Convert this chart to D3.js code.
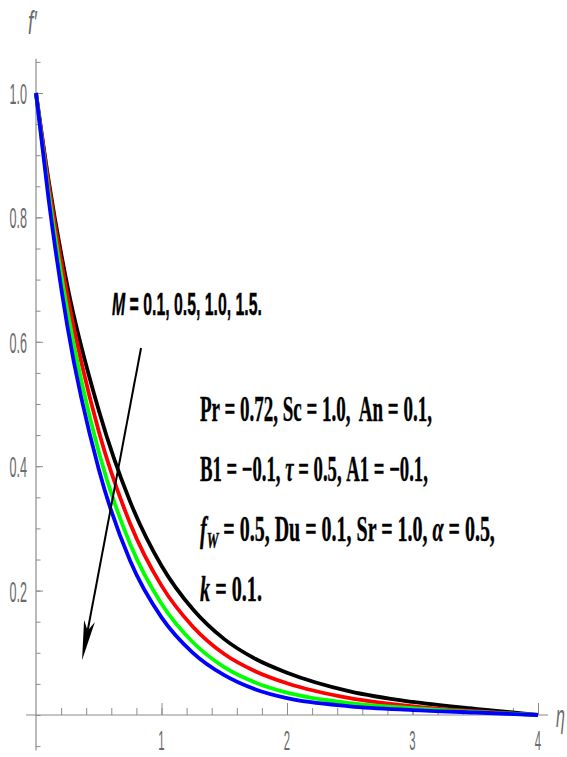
<!DOCTYPE html>
<html>
<head>
<meta charset="utf-8">
<script src="https://cdn.jsdelivr.net/npm/d3@7/dist/d3.min.js"></script>
<style>
body{margin:0;background:#fff}
svg{display:block}
text{white-space:pre}
</style>
</head>
<body>
<svg class="graph1"></svg>
<script>
// similarity variable eta and f'(eta) for M = 0.1, 0.5, 1.0, 1.5
var eta   = [0, 0.1, 0.25, 0.5, 0.75, 1.0, 1.25, 1.5, 1.75, 2.0, 2.5, 3.0, 3.5, 4.0];
var fM01  = [1, 0.86, 0.69, 0.49, 0.343, 0.24, 0.17, 0.122, 0.09, 0.068, 0.038, 0.021, 0.010, 0];
var fM05  = [1, 0.855, 0.675, 0.456, 0.308, 0.208, 0.142, 0.098, 0.070, 0.051, 0.027, 0.014, 0.006, 0];
var fM10  = [1, 0.842, 0.65, 0.423, 0.275, 0.179, 0.117, 0.077, 0.052, 0.036, 0.019, 0.011, 0.005, 0];
var fM15  = [1, 0.83, 0.625, 0.395, 0.248, 0.157, 0.10, 0.064, 0.041, 0.027, 0.014, 0.008, 0.004, 0];
var seriesNames  = ["M = 0.1", "M = 0.5", "M = 1.0", "M = 1.5"];
var seriesColors = ["#000000", "#ff0000", "#00ff00", "#0000ff"];

var xTicks = [1, 2, 3, 4];
var xTickLabels = ["1", "2", "3", "4"];
var yTicks = [0.2, 0.4, 0.6, 0.8, 1.0];
var yTickLabels = ["0.2", "0.4", "0.6", "0.8", "1.0"];

// arrow from (eta, f') to (eta, f')
var arrowFrom = [0.837, 0.59];
var arrowTo   = [0.367, 0.088];

var makeTranslateString = function(x,y)
{
    return "translate("+x+","+y+")";
}

var screen = {width:567, height:757};

var svg = d3.select(".graph1")
    .attr("width", screen.width)
    .attr("height", screen.height);

var xScale = d3.scaleLinear().domain([0,4]).range([36,538]);
var yScale = d3.scaleLinear().domain([0,1]).range([715,93]);

var axisColor = "#8c8c8c";
var labelColor = "#6a6a6a";

// axis lines
svg.append("line")
    .attr("x1", xScale(-0.08)).attr("x2", xScale(4.08))
    .attr("y1", yScale(0)).attr("y2", yScale(0))
    .attr("stroke", axisColor).attr("stroke-width", 1.2);
svg.append("line")
    .attr("x1", xScale(0)).attr("x2", xScale(0))
    .attr("y1", yScale(1.055)).attr("y2", yScale(-0.057))
    .attr("stroke", axisColor).attr("stroke-width", 1.2);

// ticks
var drawTicks = function(axis, transform)
{
    var g = svg.append("g")
        .attr("transform", transform)
        .call(axis);
    g.select(".domain").remove();
    g.selectAll("line").attr("stroke", axisColor).attr("stroke-width", 1);
    g.selectAll("text").remove();
}
var xMinor = d3.range(1, 21).map(function(i){ return i*0.2; });
var yMinor = d3.range(-1, 22).map(function(i){ return i*0.05; });

drawTicks(d3.axisBottom(xScale).tickValues(xMinor).tickSize(-7).tickSizeOuter(0), makeTranslateString(0, yScale(0)));
drawTicks(d3.axisBottom(xScale).tickValues(xTicks).tickSize(-12).tickSizeOuter(0), makeTranslateString(0, yScale(0)));
drawTicks(d3.axisLeft(yScale).tickValues(yMinor).tickSize(-4.5).tickSizeOuter(0), makeTranslateString(xScale(0), 0));
drawTicks(d3.axisLeft(yScale).tickValues(yTicks).tickSize(-7).tickSizeOuter(0), makeTranslateString(xScale(0), 0));

// tick labels (narrow, grey)
var tickSx = 0.42;
yTicks.forEach(function(v,i)
{
    svg.append("text")
        .text(yTickLabels[i])
        .attr("text-anchor", "end")
        .attr("font-family", "Liberation Sans, Arial, sans-serif")
        .attr("font-size", 30)
        .attr("fill", labelColor)
        .attr("transform", makeTranslateString(27, yScale(v)+11) + " scale("+tickSx+",1)");
});
xTicks.forEach(function(v,i)
{
    svg.append("text")
        .text(xTickLabels[i])
        .attr("text-anchor", "middle")
        .attr("font-family", "Liberation Sans, Arial, sans-serif")
        .attr("font-size", 27)
        .attr("fill", labelColor)
        .attr("transform", makeTranslateString(xScale(v), 750) + " scale("+tickSx+",1)");
});

// axis labels
svg.append("text")
    .text("f\u2032")
    .attr("font-family", "Liberation Sans, Arial, sans-serif")
    .attr("font-style", "italic")
    .attr("font-size", 34)
    .attr("fill", labelColor)
    .attr("transform", makeTranslateString(28, 34) + " scale(0.55,1)");
svg.append("text")
    .text("\u03b7")
    .attr("font-family", "Liberation Sans, Arial, sans-serif")
    .attr("font-style", "italic")
    .attr("font-size", 32)
    .attr("fill", labelColor)
    .attr("transform", makeTranslateString(556, 727) + " scale(0.5,1)");

// curves
var line = d3.line()
    .x(function(d){ return xScale(d[0]); })
    .y(function(d){ return yScale(d[1]); })
    .curve(d3.curveMonotoneX);

[fM01, fM05, fM10, fM15].forEach(function(vals,i)
{
    svg.append("path")
        .datum(eta.map(function(e,j){ return [e, vals[j]]; }))
        .attr("class", "curve")
        .attr("data-name", seriesNames[i])
        .attr("d", line)
        .attr("fill", "none")
        .attr("stroke", seriesColors[i])
        .attr("stroke-width", 3.8)
        .attr("stroke-linejoin", "round");
});

// arrow
var ax0 = xScale(arrowFrom[0]), ay0 = yScale(arrowFrom[1]);
var ax1 = xScale(arrowTo[0]),   ay1 = yScale(arrowTo[1]);
var len = Math.sqrt((ax0-ax1)*(ax0-ax1)+(ay0-ay1)*(ay0-ay1));
var ux = (ax0-ax1)/len, uy = (ay0-ay1)/len;
var px = -uy, py = ux;
svg.append("line")
    .attr("x1", ax0).attr("y1", ay0)
    .attr("x2", ax1+30*ux).attr("y2", ay1+30*uy)
    .attr("stroke", "#000").attr("stroke-width", 2);
var head = [
    [ax1, ay1],
    [ax1+40*ux+5.5*px, ay1+40*uy+5.5*py],
    [ax1+30*ux, ay1+30*uy],
    [ax1+40*ux-5.5*px, ay1+40*uy-5.5*py]
];
svg.append("path")
    .attr("d", "M" + head.map(function(p){ return p.join(","); }).join("L") + "Z")
    .attr("fill", "#000");

// annotations, squeezed horizontally to the widths in the picture
var squeezeText = function(textSel, x, baseline, width)
{
    var w = textSel.node().getBBox().width;
    textSel.attr("transform", makeTranslateString(x, baseline) + " scale(" + (width/w) + ",1)");
}

var mLabel = svg.append("text")
    .attr("font-family", "Liberation Sans, Arial, sans-serif")
    .attr("font-weight", "bold")
    .attr("font-size", 32)
    .attr("fill", "#000")
    .attr("stroke", "#000")
    .attr("stroke-width", 0.4);
mLabel.append("tspan").attr("font-style", "italic").text("M");
mLabel.append("tspan").text(" = 0.1, 0.5, 1.0, 1.5.");
squeezeText(mLabel, 112, 315, 150);

var paramFont = "Liberation Serif, Times New Roman, serif";
var makeParamLine = function(parts, baseline, width)
{
    var t = svg.append("text")
        .attr("font-family", paramFont)
        .attr("font-weight", "bold")
        .attr("font-size", 35)
        .attr("fill", "#000")
        .attr("stroke", "#000")
        .attr("stroke-width", 0.4);
    parts.forEach(function(p)
    {
        var s = t.append("tspan").text(p.text);
        if (p.italic) s.attr("font-style", "italic");
        if (p.dy) s.attr("dy", p.dy);
        if (p.size) s.attr("font-size", p.size);
    });
    squeezeText(t, 200, baseline, width);
}

makeParamLine([{text:"Pr = 0.72, Sc = 1.0,  An = 0.1,"}], 421, 232);
makeParamLine([{text:"B1 = \u22120.1, "}, {text:"\u03c4", italic:true}, {text:" = 0.5, A1 = \u22120.1,"}], 481, 228);
makeParamLine([{text:"f", italic:true}, {text:"W", italic:true, dy:7, size:23},
               {text:" = 0.5, Du = 0.1, Sr = 1.0, ", dy:-7},
               {text:"\u03b1", italic:true}, {text:" = 0.5,"}], 541, 295);
makeParamLine([{text:"k", italic:true}, {text:" = 0.1."}], 601, 62);
</script>
</body>
</html>
